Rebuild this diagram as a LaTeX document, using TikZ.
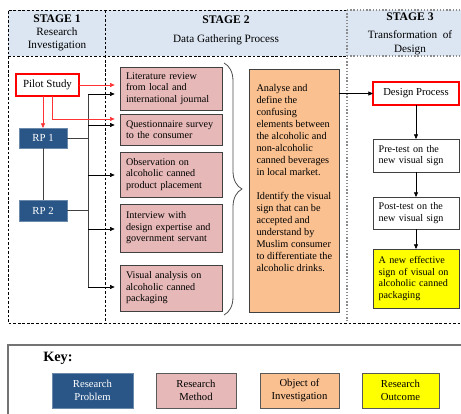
\documentclass[tikz,border=0pt]{standalone}
\usepackage{fontspec}
\setmainfont{Liberation Serif}
\usetikzlibrary{arrows.meta,shadows,decorations.pathreplacing}

\definecolor{hdrfill}{HTML}{DCE6F2}
\definecolor{rpblue}{HTML}{2A5687}
\definecolor{methodfill}{HTML}{E6B9B8}
\definecolor{objfill}{HTML}{FAC090}
\definecolor{outfill}{HTML}{FFFF00}
\definecolor{redline}{HTML}{FF0000}

\tikzset{
  txt/.style={font=\fontsize{7.6}{8.6}\selectfont, inner sep=0pt, outer sep=0pt,
    execute at begin node={\hyphenpenalty=10000\exhyphenpenalty=10000}},
  hdrtxt/.style={font=\fontsize{8.4}{9.75}\selectfont, inner sep=0pt, align=center},
  probbox/.style={txt, font=\fontsize{8.1}{9}\selectfont, draw=rpblue!70!white, fill=rpblue, text=white,
    drop shadow={shadow xshift=0.8pt, shadow yshift=-0.8pt, fill=black!45, opacity=0.6}},
  methodbox/.style={txt, draw=black!75, line width=0.6pt, fill=methodfill, align=left,
    text width=67.5pt, inner xsep=4.5pt, minimum width=76.5pt},
  stepbox/.style={txt, draw=black!75, line width=0.6pt, align=left,
    text width=56pt, inner xsep=4.25pt, minimum width=64.5pt},
  redbox/.style={txt, draw=redline, line width=1.6pt, fill=white},
  keybox/.style={font=\fontsize{8}{10}\selectfont, inner sep=0pt, align=center,
    draw=black!65, line width=0.6pt, minimum height=26.25pt},
  blackdash/.style={black, line width=0.5pt, dash pattern=on 2pt off 1.4pt},
  graydot/.style={black!45, line width=1.1pt, dash pattern=on 1.1pt off 1.3pt},
  arr/.style={black, line width=0.5pt, -{Triangle[length=3.5pt,width=3pt]}},
  redarr/.style={redline!80!white, line width=0.5pt, -{Triangle[length=3.5pt,width=3pt]}},
  link/.style={black!75, line width=0.6pt},
}

\begin{document}
\begin{tikzpicture}[x=0.75pt, y=-0.75pt]
\useasboundingbox (0,0) rectangle (461,414);

% header band and column frames
\fill[hdrfill] (8,10) rectangle (461,56);
\draw[blackdash] (347,10) -- (8,10) -- (8,323) -- (461,323);
\draw[blackdash] (8,56) -- (347,56);
\draw[blackdash] (105,10) -- (105,323);
\draw[graydot] (347,10) -- (461,10);
\draw[graydot] (347,56) -- (461,56);
\draw[graydot] (347,10) -- (347,321);

% stage titles
\node[hdrtxt] (s1) at (57,33) {\textbf{\fontsize{8.7}{9.75}\selectfont STAGE 1}\\Research\\Investigation};
\node[hdrtxt] (s2a) at (226,20) {\textbf{\fontsize{8.7}{9.75}\selectfont STAGE 2}};
\node[hdrtxt] (s2b) at (226,40) {Data Gathering Process};
\node[hdrtxt] (s3a) at (410,17) {\textbf{\fontsize{8.7}{9.75}\selectfont STAGE 3}};
\node[hdrtxt, font=\fontsize{8.4}{10.5}\selectfont] (s3b) at (410,43) {Transformation\ \ of\\Design};

% stage 1
\node[redbox, font=\fontsize{8.2}{9}\selectfont, minimum width=47.25pt, minimum height=16.5pt] (pilot) at (47.5,85) {Pilot Study};
\node[probbox, minimum width=36pt, minimum height=15pt] (rp1) at (43,138) {RP 1};
\node[probbox, minimum width=36pt, minimum height=15.75pt] (rp2) at (43,210.5) {RP 2};

% stage 2 methods
\node[methodbox, minimum height=32.25pt] (lit) at (171,88.5) {Literature review\\from local and\\international journal};
\node[methodbox, minimum height=23.25pt] (quest) at (171,129.5) {Questionnaire survey\\to the consumer};
\node[methodbox, minimum height=33.75pt] (obs) at (171,174.5) {Observation on\\alcoholic canned\\product placement};
\node[methodbox, minimum height=36pt] (intv) at (171,228) {Interview with\\design expertise and\\government servant};
\node[methodbox, minimum height=34.5pt] (vis) at (171,288) {Visual analysis on\\alcoholic canned\\packaging};

% object of investigation
\node[txt, draw=black!75, line width=0.6pt, fill=objfill, minimum width=67.5pt, minimum height=182.25pt] (obj) at (294,190.5) {};
\node[txt, anchor=north west, align=left, font=\fontsize{7.7}{9}\selectfont] (objtext) at (256.5,84.5)
  {Analyse and\\define the\\confusing\\elements between\\the alcoholic and\\non-alcoholic\\canned beverages\\in local market.\\[9pt]%
   Identify the visual\\sign that can be\\accepted and\\understand by\\Muslim consumer\\to differentiate the\\alcoholic drinks.};

% stage 3
\node[redbox, minimum width=64.5pt, minimum height=17.25pt, font=\fontsize{8}{9}\selectfont] (design) at (416,93.5) {Design Process};
\node[stepbox, fill=white, minimum height=24.75pt] (pre) at (416,155.5) {Pre-test on the\\new visual sign};
\node[stepbox, fill=white, minimum height=24pt] (post) at (416,213) {Post-test on the\\new visual sign};
\node[stepbox, fill=outfill, minimum height=44.25pt] (outc) at (416,278.5) {A new effective\\sign of visual on\\alcoholic canned\\packaging};

% bus from the research problems to the methods
\coordinate (b1) at (88,94);
\coordinate (b2) at (88,125);
\coordinate (b3) at (88,175);
\coordinate (b4) at (88,229);
\coordinate (b5) at (88,287);
\draw[link] (rp1.south) -- (rp2.north);
\draw[link] (b1) -- (b5);
\draw[link] (rp1.east) -- (rp1.east -| b1);
\draw[link] (rp2.east) -- (rp2.east -| b1);
\draw[arr, shorten >=4pt] (b1) -- (b1 -| lit.west);
\draw[arr, shorten >=4pt] (b2) -- (b2 -| quest.west);
\draw[arr, shorten >=4pt] (b3) -- (b3 -| obs.west);
\draw[arr, shorten >=4pt] (b4) -- (b4 -| intv.west);
\draw[arr, shorten >=4pt] (b5) -- (b5 -| vis.west);

% pilot study links
\draw[redarr, shorten >=4pt] (pilot.east) -- (pilot.east -| lit.west);
\draw[redarr] (rp1.north |- pilot.south) -- (rp1.north);
\draw[redarr, shorten >=4pt] ([xshift=3.4pt]pilot.south) |- ([yshift=7.9pt]quest.west);

% brace gathering the methods
\draw[black!70, line width=0.6pt, decorate, decoration={brace, amplitude=13.5pt, aspect=0.5}] (224,63) -- (224,315);

% stage 3 flow
\draw[arr] (design.west -| obj.east) -- (design.west);
\draw[arr] (design.south) -- (pre.north);
\draw[arr] (pre.south) -- (post.north);
\draw[arr] (post.south) -- (outc.north);

% key
\draw[black!55, line width=0.8pt] (461,345) -- (8,345) -- (8,414);
\node[anchor=west, inner sep=0pt, font=\bfseries\fontsize{10.7}{12}\selectfont] (keylbl) at (43,358) {Key:};
\node[keybox, fill=rpblue, text=white, draw=rpblue!70!white, minimum width=60.75pt,
  drop shadow={shadow xshift=0.8pt, shadow yshift=-0.8pt, fill=black!45, opacity=0.6}] (kp) at (92.5,390.5) {Research\\Problem};
\node[keybox, fill=methodfill, minimum width=60pt] (km) at (196,390.5) {Research\\Method};
\node[keybox, fill=objfill, minimum width=59.25pt] (ko) at (299.5,390.5) {Object of\\Investigation};
\node[keybox, fill=outfill, minimum width=57.75pt] (kr) at (400.5,390.5) {Research\\Outcome};
\end{tikzpicture}
\end{document}
